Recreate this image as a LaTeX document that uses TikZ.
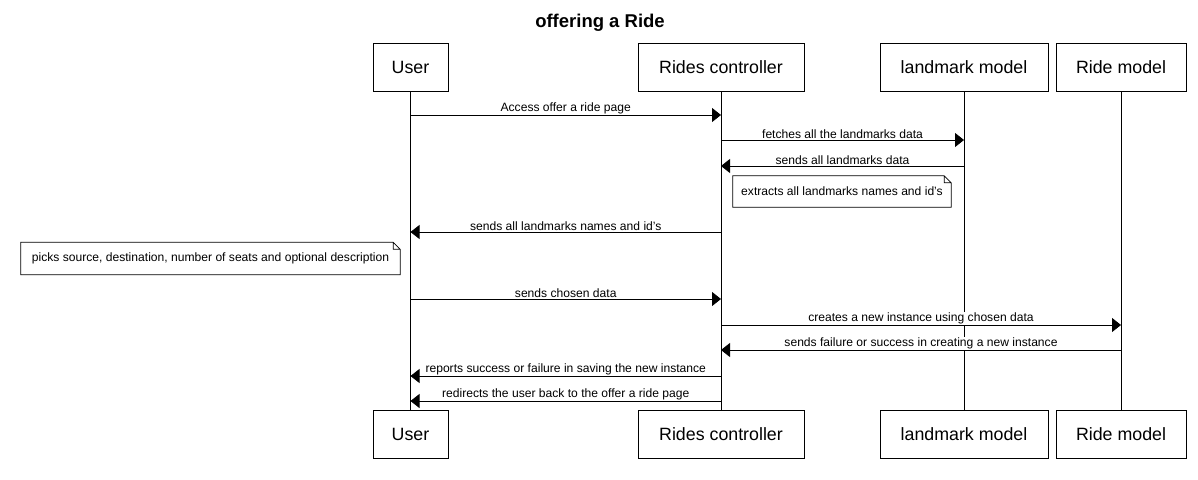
\documentclass[tikz,border=0pt]{standalone}
\usepackage{fontspec}
\setmainfont{Liberation Sans}
\usetikzlibrary{arrows.meta}
\tikzset{
x=1pt, y=-1pt,
actor/.style={draw=black, line width=0.8pt, minimum height=48pt, inner sep=0pt, font=\fontsize{17.8}{21}\selectfont},
lifeline/.style={draw=black, line width=0.8pt},
msg/.style={draw=black, line width=0.8pt, -{Triangle[length=9pt, width=14pt]}},
msglabel/.style={above, fill=white, inner sep=0.6pt, font=\fontsize{12.1}{14}\selectfont},
notebox/.style={minimum height=31pt, inner sep=0pt, font=\fontsize{12.1}{14}\selectfont},
}
\begin{document}
\begin{tikzpicture}
\useasboundingbox[fill=white] (0,0) rectangle (1198,479);
\node[font=\bfseries\fontsize{18.5}{21}\selectfont] (title) at (600,23) {offering a Ride};
% participants, top and bottom
\node[actor, minimum width=75pt] (userTop) at (410.5,67) {User};
\node[actor, minimum width=166pt] (rcTop) at (721,67) {Rides controller};
\node[actor, minimum width=168pt] (lmTop) at (964,67) {landmark model};
\node[actor, minimum width=130pt] (rmTop) at (1121,67) {Ride model};
\node[actor, minimum width=75pt] (userBot) at (410.5,434) {User};
\node[actor, minimum width=166pt] (rcBot) at (721,434) {Rides controller};
\node[actor, minimum width=168pt] (lmBot) at (964,434) {landmark model};
\node[actor, minimum width=130pt] (rmBot) at (1121,434) {Ride model};
\foreach \who in {user,rc,lm,rm}
  \draw[lifeline] (\who Top.south) -- (\who Bot.north);
% notes
\node[notebox, minimum width=218pt] (extractNote) at (842,191.5) {extracts all landmarks names and id's};
\node[notebox, minimum width=379pt, minimum height=32pt] (pickNote) at (210.5,258.5) {picks source, destination, number of seats and optional description};
\foreach \n in {extractNote,pickNote}
  \draw[line width=0.8pt] (\n.south west) -- (\n.north west) -- ([xshift=-7pt]\n.north east)
    -- ([yshift=-7pt]\n.north east) -- (\n.south east) -- cycle
    ([xshift=-7pt]\n.north east) -- ([xshift=-7pt, yshift=-7pt]\n.north east) -- ([yshift=-7pt]\n.north east);
% messages
\draw[msg] (userTop.south |- 0,115) -- (rcTop.south |- 0,115)
  node[msglabel, midway] {Access offer a ride page};
\draw[msg] (rcTop.south |- 0,140) -- (lmTop.south |- 0,140)
  node[msglabel, midway] {fetches all the landmarks data};
\draw[msg] (lmTop.south |- 0,166) -- (rcTop.south |- 0,166)
  node[msglabel, midway] {sends all landmarks data};
\draw[msg] (rcTop.south |- 0,232) -- (userTop.south |- 0,232)
  node[msglabel, midway] {sends all landmarks names and id's};
\draw[msg] (userTop.south |- 0,299) -- (rcTop.south |- 0,299)
  node[msglabel, midway] {sends chosen data};
\draw[msg] (rcTop.south |- 0,325) -- (rmTop.south |- 0,325)
  node[msglabel, midway] {creates a new instance using chosen data};
\draw[msg] (rmTop.south |- 0,350) -- (rcTop.south |- 0,350)
  node[msglabel, midway] {sends failure or success in creating a new instance};
\draw[msg] (rcTop.south |- 0,376) -- (userTop.south |- 0,376)
  node[msglabel, midway] {reports success or failure in saving the new instance};
\draw[msg] (rcTop.south |- 0,401) -- (userTop.south |- 0,401)
  node[msglabel, midway] {redirects the user back to the offer a ride page};
\end{tikzpicture}
\end{document}
